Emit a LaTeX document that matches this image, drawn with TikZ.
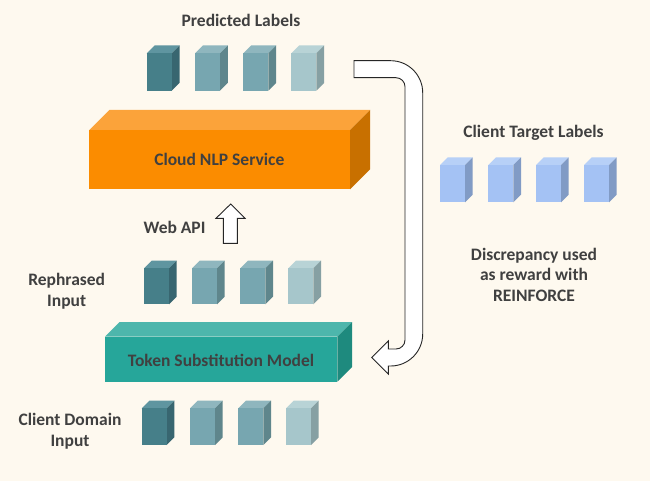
\documentclass[tikz,border=0pt]{standalone}
\usepackage{fontspec}
\setmainfont{Carlito}
\definecolor{bg}{HTML}{FEF9EF}
\definecolor{txt}{HTML}{404040}
\definecolor{dkF}{HTML}{467F89}\definecolor{dkT}{HTML}{5F95A0}\definecolor{dkS}{HTML}{386670}
\definecolor{mdF}{HTML}{77A6B0}\definecolor{mdT}{HTML}{8FB6BE}\definecolor{mdS}{HTML}{5F868C}
\definecolor{ltF}{HTML}{A6C6CB}\definecolor{ltT}{HTML}{B8D3D6}\definecolor{ltS}{HTML}{86A0A3}
\definecolor{blF}{HTML}{A4C2F4}\definecolor{blT}{HTML}{B7D0F7}\definecolor{blS}{HTML}{819BC5}
\definecolor{orF}{HTML}{FB8C00}\definecolor{orT}{HTML}{FBA33A}\definecolor{orS}{HTML}{C87000}
\definecolor{tlF}{HTML}{26A69A}\definecolor{tlT}{HTML}{4DB6AC}\definecolor{tlS}{HTML}{1E8A7E}
\tikzset{
  lbl/.style={font=\bfseries\fontsize{17.5}{20.8}\selectfont, text=txt, align=center, inner sep=0pt, anchor=base},
  blockarrow/.style={fill=white, draw=black!85, line width=0.9pt, line join=miter}
}
% #1 x, #2 y top of front, #3 width, #4 height, #5 depth, #6 colour prefix
\newcommand{\blockbox}[6]{%
  \fill[#6T] (#1,#2) -- ++(#5,-#5) -- ++(#3,0) -- ++(-#5,#5) -- cycle;
  \fill[#6S] (#1+#3,#2) -- ++(#5,-#5) -- ++(0,#4) -- ++(-#5,#5) -- cycle;
  \fill[#6F] (#1,#2) rectangle ++(#3,#4);
}
\begin{document}
\begin{tikzpicture}[x=1pt,y=-1pt]
\fill[bg] (0,0) rectangle (650,481);
\useasboundingbox (0,0) rectangle (650,481);

% predicted labels cubes
\blockbox{146.7}{53.3}{25}{37.4}{7.8}{dk}
\blockbox{195}{53.3}{25}{37.4}{7.8}{md}
\blockbox{243.3}{53.3}{25}{37.4}{7.8}{md}
\blockbox{291.3}{53.3}{25}{37.4}{7.8}{lt}

% cloud NLP service
\blockbox{89.3}{130}{260.7}{59.3}{20}{or}
\node[lbl] (cloud) at (219.3,165.7) {Cloud NLP Service};

% client target labels
\blockbox{440}{165}{25}{37.3}{7.7}{bl}
\blockbox{488.3}{165}{25}{37.3}{7.7}{bl}
\blockbox{536}{165}{25}{37.3}{7.7}{bl}
\blockbox{584}{165}{25}{37.3}{7.7}{bl}

% rephrased input cubes
\blockbox{144}{268.3}{25}{36}{7.7}{dk}
\blockbox{192}{268.3}{25}{36}{7.7}{md}
\blockbox{240.3}{268.3}{25}{36}{7.7}{md}
\blockbox{288.3}{268.3}{25}{36}{7.7}{lt}

% token substitution model
\blockbox{105}{336.7}{232.3}{45}{14.7}{tl}
\node[lbl] (tsm) at (221,366) {Token Substitution Model};

% client domain input cubes
\blockbox{141.7}{408.3}{25}{36.7}{7.7}{dk}
\blockbox{190}{408.3}{25}{36.7}{7.7}{md}
\blockbox{238.3}{408.3}{25}{36.7}{7.7}{md}
\blockbox{286}{408.3}{25}{36.7}{7.7}{lt}

% labels
\node[lbl] (pred) at (241,26.7) {Predicted Labels};
\node[lbl] (webapi) at (174.5,233) {Web API};
\node[lbl] (reph) at (66.7,306.7) {Rephrased\\Input};
\node[lbl] (cdi) at (70,446.7) {Client Domain\\Input};
\node[lbl] (ctl) at (533.5,138) {Client Target Labels};
\node[lbl] (disc) at (534,301.7) {Discrepancy used\\as reward with\\REINFORCE};

% up arrow (Web API)
\draw[blockarrow] (230.7,204) -- (245,218.3) -- (237.3,218.3) -- (237.3,243.3)
  -- (223.3,243.3) -- (223.3,218.3) -- (216,218.3) -- cycle;

% big feedback arrow
\draw[blockarrow] (354,60.7) -- (390.7,60.7)
  arc[start angle=90, end angle=0, radius=32pt] -- (422.7,334)
  arc[start angle=0, end angle=-90, radius=32pt] -- (388.3,366)
  -- (388.3,374) -- (371.7,357.5) -- (388.3,341) -- (388.3,349) -- (396,349)
  arc[start angle=-90, end angle=0, radius=9pt] -- (405,86.7)
  arc[start angle=0, end angle=90, radius=9pt] -- (354,77.7) -- cycle;
\end{tikzpicture}
\end{document}
